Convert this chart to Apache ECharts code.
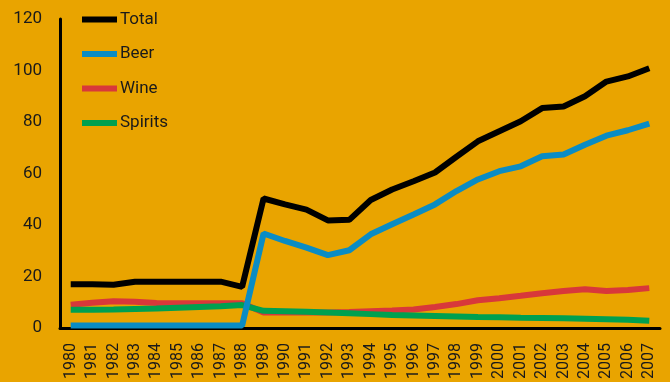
<!DOCTYPE html>
<html>
<head>
<meta charset="utf-8">
<script src="https://cdn.jsdelivr.net/npm/echarts@6/dist/echarts.min.js"></script>
<style>
  html, body { margin: 0; padding: 0; background: #E9A400; }
  #chart { width: 670px; height: 382px; }
</style>
</head>
<body>
<div id="chart"></div>
<script>
const years = ['1980', '1981', '1982', '1983', '1984', '1985', '1986', '1987', '1988', '1989',
  '1990', '1991', '1992', '1993', '1994', '1995', '1996', '1997', '1998', '1999',
  '2000', '2001', '2002', '2003', '2004', '2005', '2006', '2007'];

const total = [17, 17, 16.8, 18, 18, 18, 18, 18, 16, 50.3,
  48, 46, 41.8, 42, 49.7, 53.8, 57, 60.4, 66.5, 72.5,
  76.4, 80.3, 85.4, 86, 90, 95.7, 97.7, 100.9];
const beer = [1, 1, 1, 1, 1, 1, 1, 1, 1, 36.7,
  33.8, 31.2, 28.3, 30.2, 36.4, 40.3, 44.1, 48, 53.2, 57.7,
  60.9, 62.8, 66.7, 67.4, 71.2, 74.7, 76.8, 79.4];
const wine = [9, 9.8, 10.4, 10.2, 9.7, 9.6, 9.6, 9.6, 9.6, 6,
  6, 6, 6, 6.2, 6.5, 6.8, 7.2, 8.2, 9.3, 10.8,
  11.6, 12.5, 13.5, 14.4, 15.1, 14.4, 14.8, 15.5];
const spirits = [7.1, 7.1, 7.2, 7.4, 7.6, 7.9, 8.2, 8.5, 8.9, 6.7,
  6.5, 6.3, 6.0, 5.7, 5.4, 5.1, 4.9, 4.7, 4.5, 4.3,
  4.2, 4.0, 3.9, 3.8, 3.6, 3.4, 3.2, 2.8];

const yTicks = [0, 20, 40, 60, 80, 100, 120];

const font = '"Liberation Sans Narrow", Roboto, sans-serif';

const chart = echarts.init(document.getElementById('chart'), null, { renderer: 'canvas' });

const option = {
  backgroundColor: '#E9A400',
  animation: false,
  grid: {
    left: 60,
    right: 10,
    top: 19,
    bottom: 53,
  },
  legend: {
    orient: 'vertical',
    left: 77,
    top: 6,
    itemWidth: 35,
    itemHeight: 6,
    itemGap: 17.5,
    icon: 'rect',
    data: ['Total', 'Beer', 'Wine', 'Spirits'],
    textStyle: {
      fontFamily: font,
      fontSize: 17,
      color: '#1a1a1a',
      padding: [0, 0, 0, -2],
    },
  },
  xAxis: {
    type: 'category',
    data: years,
    boundaryGap: true,
    axisLine: { lineStyle: { color: '#000', width: 3 } },
    axisTick: { show: false },
    axisLabel: {
      rotate: 90,
      interval: 0,
      margin: 15,
      fontFamily: font,
      fontSize: 16,
      color: '#1a1a1a',
    },
  },
  yAxis: {
    type: 'value',
    min: yTicks[0],
    max: yTicks[yTicks.length - 1],
    interval: 20,
    axisLine: { show: true, lineStyle: { color: '#000', width: 3 } },
    axisTick: { show: false },
    splitLine: { show: false },
    axisLabel: {
      margin: 18,
      fontFamily: font,
      fontSize: 17,
      color: '#1a1a1a',
    },
  },
  series: [
    {
      name: 'Spirits',
      type: 'line',
      data: spirits,
      showSymbol: false,
      color: '#00A050',
      lineStyle: { width: 6 },
      z: 2,
    },
    {
      name: 'Wine',
      type: 'line',
      data: wine,
      showSymbol: false,
      color: '#D8383A',
      lineStyle: { width: 6 },
      z: 1,
    },
    {
      name: 'Beer',
      type: 'line',
      data: beer,
      showSymbol: false,
      color: '#0A8CC4',
      lineStyle: { width: 6 },
      z: 3,
    },
    {
      name: 'Total',
      type: 'line',
      data: total,
      showSymbol: false,
      color: '#000000',
      lineStyle: { width: 6 },
      z: 4,
    },
  ],
};

chart.setOption(option);
</script>
</body>
</html>
